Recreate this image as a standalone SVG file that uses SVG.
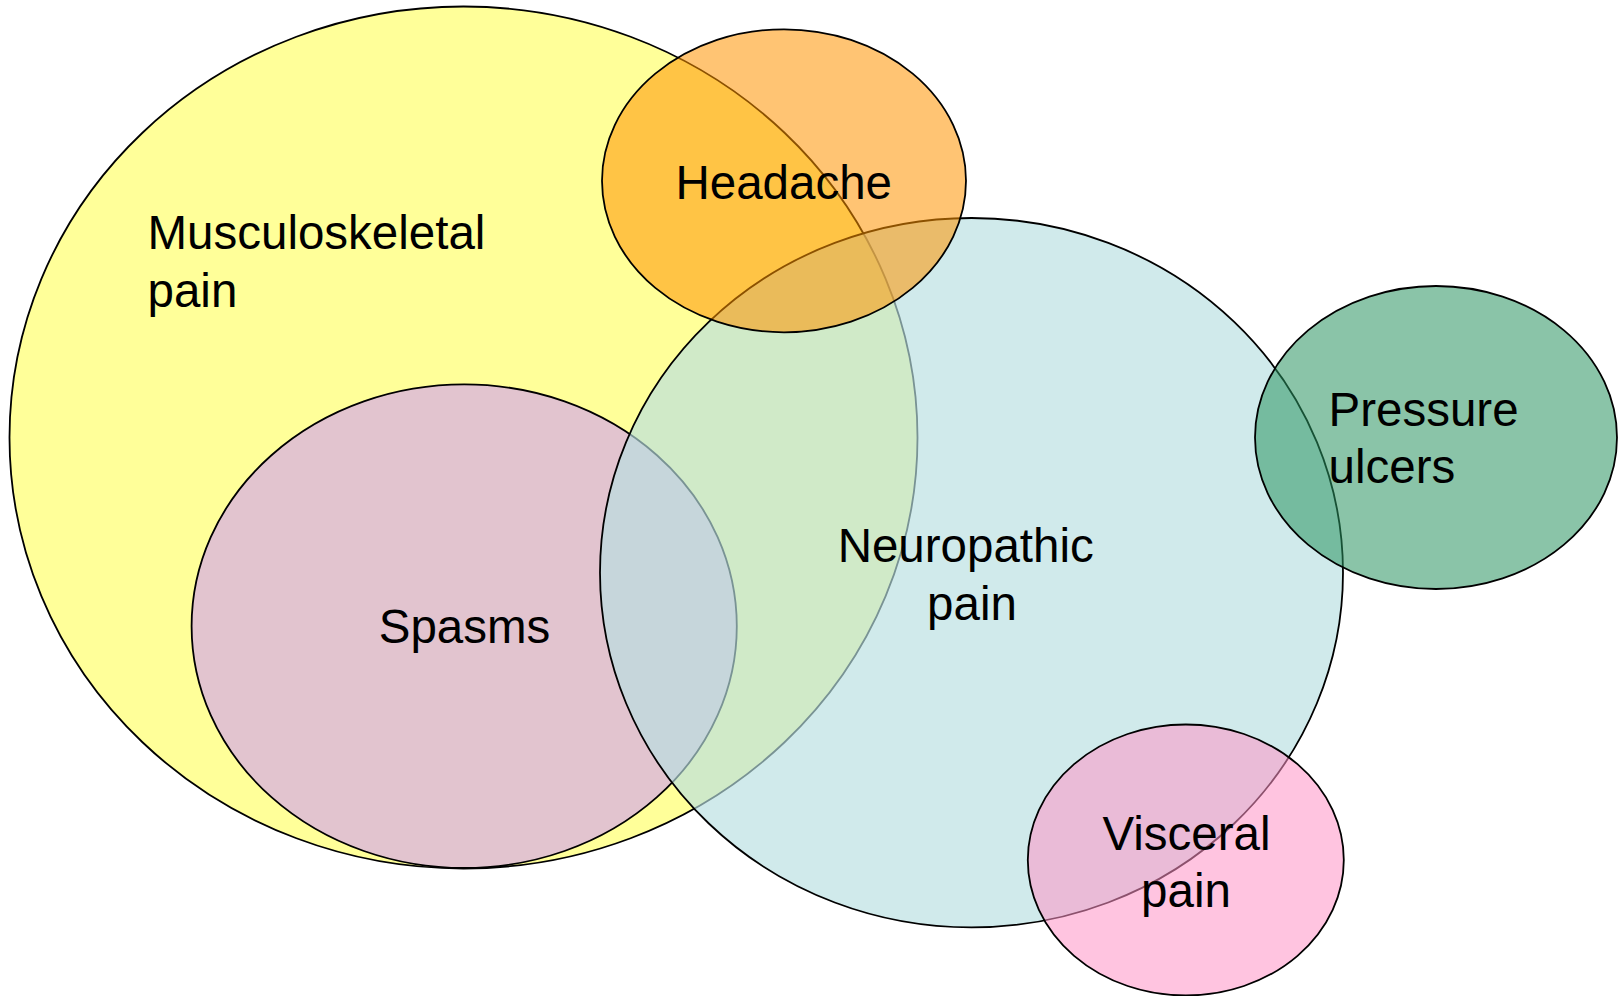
<svg xmlns="http://www.w3.org/2000/svg" width="1620" height="996" viewBox="0 0 1620 996">
<style>
  .set { stroke: #000; stroke-width: 1.8; }
  .lbl { font-family: "Liberation Sans", Arial, sans-serif; font-size: 47.5px; fill: #000; }
</style>
<rect width="1620" height="996" fill="#ffffff"/>
<g id="musculoskeletal">
  <ellipse class="set" cx="463.5" cy="437.5" rx="454" ry="431" fill="#FFFF99"/>
</g>
<g id="spasms">
  <ellipse class="set" cx="464.2" cy="626.2" rx="272.6" ry="241.8" fill="#E2C4CF"/>
</g>
<g id="neuropathic">
  <ellipse class="set" cx="971.5" cy="572.7" rx="371.5" ry="354.7" fill="#B8DFE1" fill-opacity="0.66"/>
</g>
<g id="headache">
  <ellipse class="set" cx="784" cy="180.8" rx="182" ry="151.5" fill="#FF9400" fill-opacity="0.55"/>
</g>
<g id="pressure">
  <ellipse class="set" cx="1436" cy="437.5" rx="181" ry="151.5" fill="#2A9461" fill-opacity="0.55"/>
</g>
<g id="visceral">
  <ellipse class="set" cx="1185.8" cy="860" rx="158" ry="135.5" fill="#FF94C7" fill-opacity="0.55"/>
</g>
<g id="connectors"></g>
<g id="labels">
  <text class="lbl" x="147.5" y="249.3">Musculoskeletal</text>
  <text class="lbl" x="147.5" y="307.3">pain</text>
  <text class="lbl" x="783.7" y="199.3" text-anchor="middle">Headache</text>
  <text class="lbl" x="965.7" y="562.3" text-anchor="middle">Neuropathic</text>
  <text class="lbl" x="972" y="620" text-anchor="middle">pain</text>
  <text class="lbl" x="464.5" y="643" text-anchor="middle">Spasms</text>
  <text class="lbl" x="1328.5" y="426">Pressure</text>
  <text class="lbl" x="1328.5" y="483.3">ulcers</text>
  <text class="lbl" x="1186.5" y="850" text-anchor="middle">Visceral</text>
  <text class="lbl" x="1186" y="907.3" text-anchor="middle">pain</text>
</g>
</svg>
